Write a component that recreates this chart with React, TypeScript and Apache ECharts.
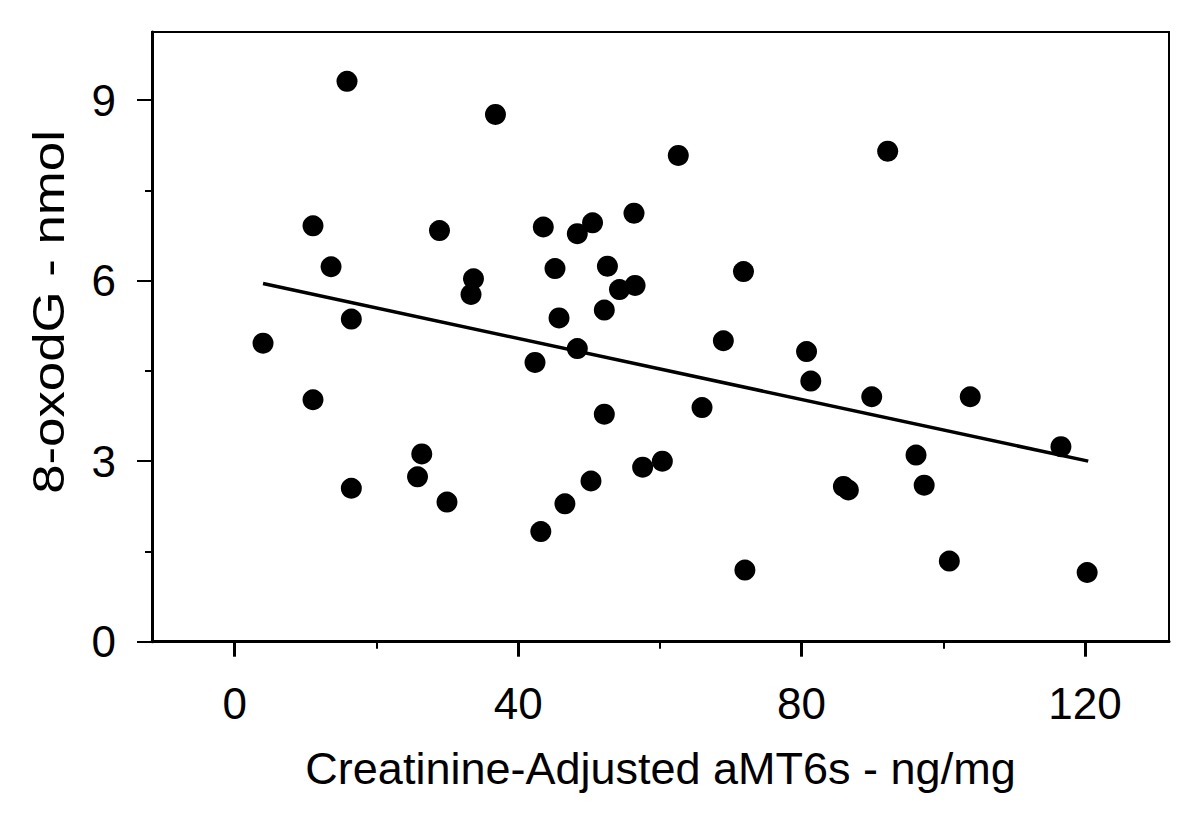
import React, { useEffect, useRef } from "react";
import * as echarts from "echarts";

// Creatinine-adjusted aMT6s (ng/mg) for each subject
const aMT6s = [
  15.85, 36.8, 11.05, 28.9, 13.6, 33.7, 33.35, 16.46, 4.0, 11.05,
  26.4, 25.8, 16.46, 29.96, 62.6, 43.55, 48.35, 50.5, 56.35, 45.2,
  52.6, 54.3, 56.5, 71.8, 45.77, 52.16, 68.96, 48.35, 42.38, 80.7,
  81.3, 52.16, 65.95, 50.28, 46.6, 43.2, 57.57, 60.35, 72.0, 92.15,
  89.9, 103.8, 116.6, 96.15, 85.9, 86.6, 97.3, 100.85, 120.3,
];
// 8-oxodG (nmol) for each subject
const oxodG = [
  9.31, 8.76, 6.91, 6.83, 6.23, 6.03, 5.77, 5.36, 4.96, 4.02,
  3.12, 2.74, 2.55, 2.32, 8.08, 6.89, 6.78, 6.96, 7.12, 6.2,
  6.24, 5.85, 5.92, 6.15, 5.38, 5.51, 5.0, 4.87, 4.64, 4.82,
  4.33, 3.78, 3.89, 2.67, 2.29, 1.83, 2.9, 3.0, 1.19, 8.15,
  4.07, 4.07, 3.24, 3.1, 2.58, 2.52, 2.6, 1.34, 1.15,
];
// regression line end points
const trendX = [4.0, 120.45];
const trendY = [5.95, 3.0];

const xMajorTicks = [0, 40, 80, 120];
const xMinorTicks = [20, 60, 100];
const yMajorTicks = [0, 3, 6, 9];
const yMinorTicks = [1.5, 4.5, 7.5];

const xTitle = "Creatinine-Adjusted aMT6s - ng/mg";
const yTitle = "8-oxodG - nmol";

const X_MIN = -11.67;
const X_MAX = 131.85;
const Y_MIN = 0;
const Y_MAX = 10.13;

const FONT = "'Liberation Sans', Arial, Helvetica, sans-serif";

export default function App() {
  const ref = useRef<HTMLDivElement>(null);

  useEffect(() => {
    if (!ref.current) return;
    const chart = echarts.init(ref.current, null, { renderer: "svg" });

    const gridBox = { left: 152, right: 31, top: 32, bottom: 191.3 };
    const points = aMT6s.map((x, i) => [x, oxodG[i]]);
    const trend = trendX.map((x, i) => [x, trendY[i]]);

    chart.setOption({
      animation: false,
      backgroundColor: "#ffffff",
      grid: [
        {
          ...gridBox,
          show: true,
          borderColor: "#000",
          borderWidth: 2,
          backgroundColor: "transparent",
          outerBoundsMode: "none",
        },
        { ...gridBox, show: false, outerBoundsMode: "none" },
      ],
      xAxis: [
        {
          type: "value",
          gridIndex: 0,
          min: X_MIN,
          max: X_MAX,
          position: "bottom",
          axisLine: { show: true, onZero: false, lineStyle: { color: "#000", width: 3 } },
          axisTick: {
            show: true,
            customValues: xMajorTicks,
            length: 15,
            lineStyle: { color: "#000", width: 3 },
          },
          axisLabel: {
            customValues: xMajorTicks,
            fontSize: 44,
            color: "#000",
            fontFamily: FONT,
            margin: 40,
          },
          splitLine: { show: false },
          name: xTitle,
          nameLocation: "middle",
          nameGap: 104,
          nameTextStyle: { fontSize: 45, color: "#000", fontFamily: FONT },
        },
        {
          type: "value",
          gridIndex: 1,
          min: X_MIN,
          max: X_MAX,
          position: "bottom",
          axisLine: { show: false, onZero: false },
          axisTick: {
            show: true,
            customValues: xMinorTicks,
            length: 7,
            lineStyle: { color: "#000", width: 2 },
          },
          axisLabel: { show: false },
          splitLine: { show: false },
        },
      ],
      yAxis: [
        {
          type: "value",
          gridIndex: 0,
          min: Y_MIN,
          max: Y_MAX,
          position: "left",
          axisLine: { show: true, onZero: false, lineStyle: { color: "#000", width: 3 } },
          axisTick: {
            show: true,
            customValues: yMajorTicks,
            length: 15,
            lineStyle: { color: "#000", width: 2 },
          },
          axisLabel: {
            customValues: yMajorTicks,
            fontSize: 44,
            color: "#000",
            fontFamily: FONT,
            margin: 36,
          },
          splitLine: { show: false },
        },
        {
          type: "value",
          gridIndex: 1,
          min: Y_MIN,
          max: Y_MAX,
          position: "left",
          axisLine: { show: false, onZero: false },
          axisTick: {
            show: true,
            customValues: yMinorTicks,
            length: 7,
            lineStyle: { color: "#000", width: 2 },
          },
          axisLabel: { show: false },
          splitLine: { show: false },
        },
      ],
      graphic: [
        {
          type: "text",
          x: 49,
          y: 312,
          rotation: Math.PI / 2,
          scaleX: 1.2,
          style: {
            text: yTitle,
            fontSize: 44,
            fontFamily: FONT,
            fill: "#000",
            textAlign: "center",
            textVerticalAlign: "middle",
          },
        },
      ],
      series: [
        {
          type: "line",
          xAxisIndex: 0,
          yAxisIndex: 0,
          data: trend,
          symbol: "none",
          lineStyle: { color: "#000", width: 3.5 },
          z: 2,
        },
        {
          type: "scatter",
          xAxisIndex: 0,
          yAxisIndex: 0,
          data: points,
          symbol: "circle",
          symbolSize: 21,
          itemStyle: { color: "#000", opacity: 1 },
          z: 3,
        },
      ],
    });

    return () => chart.dispose();
  }, []);

  return (
    <div
      ref={ref}
      style={{ position: "absolute", left: 0, top: 0, width: 1200, height: 833, background: "#fff" }}
    />
  );
}
